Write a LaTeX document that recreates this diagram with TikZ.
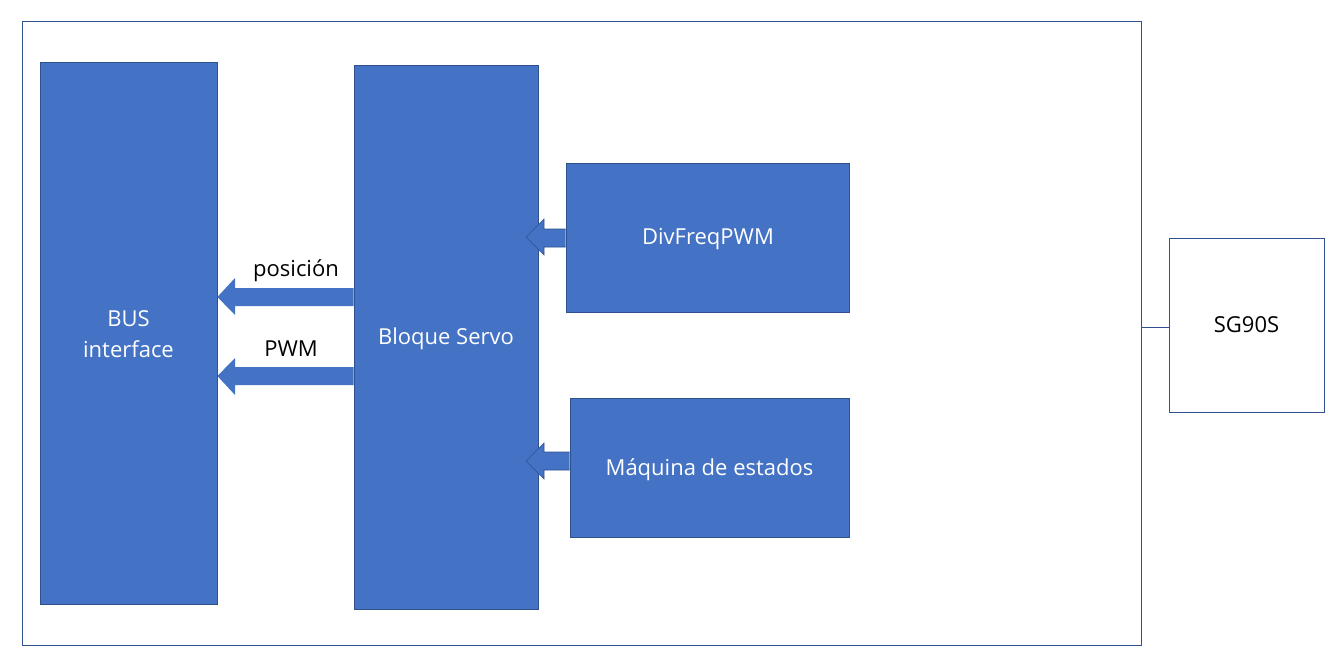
\documentclass[tikz,border=0pt]{standalone}
\usepackage{fontspec}
\setmainfont{Open Sans}
\definecolor{bfill}{HTML}{4472C4}
\definecolor{bedge}{HTML}{2F528F}
\tikzset{
  blk/.style={draw=bedge, fill=bfill, line width=0.8pt, inner sep=0pt},
  wtxt/.style={text=white, align=center, font=\fontsize{22}{31}\selectfont, inner sep=0pt},
  wbox/.style={draw=bedge, line width=0.8pt, text=black, font=\fontsize{22}{31}\selectfont, inner sep=0pt},
  barrow/.style={fill=bfill, draw=none},
  sarrow/.style={fill=bfill, draw=bedge, line width=0.6pt},
  lbl/.style={font=\fontsize{22}{31}\selectfont, text=black, inner sep=0pt}
}
\begin{document}
\begin{tikzpicture}[x=1pt,y=-1pt]
\useasboundingbox (0,0) rectangle (1338,669);
\fill[white] (0,0) rectangle (1338,669);
% outer frame
\node[draw=bedge, line width=0.8pt, minimum width=1119pt, minimum height=624pt, inner sep=0pt] (frame) at (581.5,333) {};
% blocks
\node[blk, minimum width=177pt, minimum height=542pt] (bus) at (128.5,333) {};
\node[wtxt] (bust) at (128.5,334) {BUS\\interface};
\node[blk, minimum width=184pt, minimum height=544pt] (servo) at (446,337) {};
\node[wtxt] (servot) at (446,339) {Bloque Servo};
\node[blk, minimum width=283pt, minimum height=149pt] (div) at (707.5,237.5) {};
\node[wtxt] (divt) at (708,239) {DivFreqPWM};
\node[blk, minimum width=279pt, minimum height=139pt] (maq) at (709.5,467.5) {};
\node[wtxt] (maqt) at (709.5,470) {Máquina de estados};
\node[wbox, minimum width=155pt, minimum height=174pt] (sg) at (1246.5,325) {SG90S};
% connector frame - SG90S
\draw[bedge, line width=0.8pt] (frame.east |- 0,327) -- (sg.west |- 0,327);
% big arrows servo -> bus
\fill[barrow] (servo.west |- 0,288) -- (235,288) -- (235,278) -- (bus.east |- 0,297) -- (235,315) -- (235,306) -- (servo.west |- 0,306) -- cycle;
\fill[barrow] (servo.west |- 0,367) -- (235,367) -- (235,358) -- (bus.east |- 0,376) -- (235,395) -- (235,385) -- (servo.west |- 0,385) -- cycle;
\node[lbl] (lpos) at (296,271) {posición};
\node[lbl] (lpwm) at (291,349) {PWM};
% small arrows into servo
\draw[sarrow] (div.west |- 0,229) -- (544,229) -- (544,219) -- (526,237) -- (544,255) -- (544,247) -- (div.west |- 0,247);
\draw[sarrow] (maq.west |- 0,452) -- (544,452) -- (544,443) -- (526,461) -- (544,479) -- (544,470) -- (maq.west |- 0,470);
\end{tikzpicture}
\end{document}
